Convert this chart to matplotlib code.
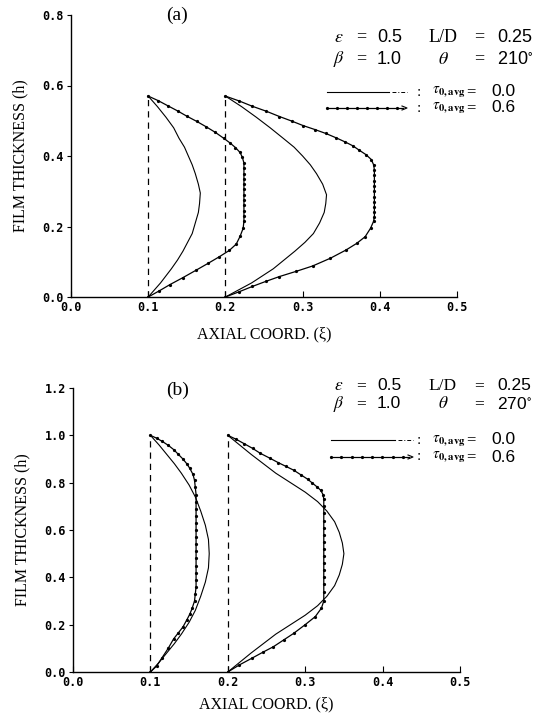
import matplotlib
matplotlib.use("Agg")
import matplotlib.pyplot as plt

plt.rcParams['font.family'] = ['Liberation Serif', 'DejaVu Serif']
plt.rcParams['mathtext.fontset'] = 'stix'

# ---------------- data ----------------
# Panel (a): theta = 210 deg
a_xticks = [0.0, 0.1, 0.2, 0.3, 0.4, 0.5]
a_yticks = [0.0, 0.2, 0.4, 0.6, 0.8]

a_solid1_xi = [0.100, 0.112, 0.123, 0.133, 0.140, 0.147, 0.152, 0.157, 0.161, 0.165, 0.1675, 0.1665, 0.165, 0.161, 0.157, 0.151, 0.145, 0.138, 0.130, 0.123, 0.116, 0.108, 0.100]
a_solid1_h  = [0.570, 0.540, 0.510, 0.480, 0.450, 0.425, 0.400, 0.375, 0.350, 0.320, 0.295, 0.265, 0.240, 0.210, 0.180, 0.155, 0.130, 0.105, 0.080, 0.060, 0.040, 0.020, 0.000]

a_solid2_xi = [0.200, 0.221, 0.240, 0.258, 0.275, 0.289, 0.300, 0.310, 0.318, 0.326, 0.331, 0.330, 0.328, 0.322, 0.314, 0.303, 0.290, 0.276, 0.262, 0.248, 0.234, 0.217, 0.200]
a_solid2_h  = [0.570, 0.540, 0.510, 0.480, 0.450, 0.425, 0.400, 0.375, 0.350, 0.320, 0.290, 0.265, 0.240, 0.210, 0.180, 0.155, 0.130, 0.105, 0.080, 0.060, 0.040, 0.020, 0.000]

a_dot1_xi = [0.100, 0.113, 0.125, 0.138, 0.150, 0.163, 0.175, 0.187, 0.198, 0.206, 0.213, 0.219, 0.222, 0.224, 0.224, 0.224, 0.224, 0.224, 0.224, 0.224, 0.224, 0.224, 0.224, 0.224, 0.224, 0.223, 0.219, 0.214, 0.205, 0.192, 0.178, 0.162, 0.145, 0.128, 0.114, 0.100]
a_dot1_h  = [0.570, 0.557, 0.543, 0.528, 0.513, 0.498, 0.483, 0.467, 0.450, 0.437, 0.424, 0.410, 0.396, 0.380, 0.365, 0.350, 0.335, 0.320, 0.305, 0.290, 0.275, 0.260, 0.245, 0.230, 0.215, 0.195, 0.172, 0.150, 0.132, 0.114, 0.096, 0.076, 0.055, 0.035, 0.017, 0.000]

a_dot2_xi = [0.200, 0.218, 0.235, 0.253, 0.270, 0.286, 0.301, 0.316, 0.330, 0.343, 0.355, 0.365, 0.373, 0.382, 0.389, 0.392, 0.393, 0.393, 0.393, 0.393, 0.393, 0.393, 0.393, 0.393, 0.393, 0.393, 0.392, 0.388, 0.381, 0.370, 0.356, 0.336, 0.313, 0.292, 0.270, 0.252, 0.235, 0.218, 0.200]
a_dot2_h  = [0.570, 0.556, 0.541, 0.527, 0.512, 0.499, 0.486, 0.475, 0.464, 0.452, 0.440, 0.429, 0.417, 0.404, 0.390, 0.375, 0.360, 0.345, 0.330, 0.315, 0.300, 0.285, 0.270, 0.255, 0.240, 0.228, 0.215, 0.195, 0.171, 0.152, 0.133, 0.110, 0.088, 0.073, 0.058, 0.044, 0.030, 0.015, 0.000]

# Panel (b): theta = 270 deg
b_xticks = [0.0, 0.1, 0.2, 0.3, 0.4, 0.5]
b_yticks = [0.0, 0.2, 0.4, 0.6, 0.8, 1.0, 1.2]

b_solid1_xi = [0.100, 0.111, 0.121, 0.131, 0.140, 0.150, 0.158, 0.165, 0.171, 0.175, 0.176, 0.175, 0.171, 0.165, 0.158, 0.150, 0.140, 0.131, 0.121, 0.111, 0.100]
b_solid1_h  = [1.000, 0.960, 0.920, 0.880, 0.840, 0.790, 0.740, 0.680, 0.620, 0.560, 0.500, 0.440, 0.380, 0.320, 0.260, 0.210, 0.160, 0.120, 0.080, 0.040, 0.000]

b_solid2_xi = [0.200, 0.215, 0.230, 0.246, 0.262, 0.281, 0.300, 0.316, 0.328, 0.338, 0.344, 0.348, 0.350, 0.348, 0.344, 0.338, 0.328, 0.316, 0.300, 0.281, 0.262, 0.246, 0.230, 0.215, 0.200]
b_solid2_h  = [1.000, 0.960, 0.920, 0.880, 0.840, 0.800, 0.760, 0.720, 0.680, 0.635, 0.590, 0.545, 0.500, 0.455, 0.410, 0.365, 0.320, 0.280, 0.240, 0.200, 0.160, 0.120, 0.080, 0.040, 0.000]

b_dot1_xi = [0.100, 0.108, 0.115, 0.123, 0.130, 0.136, 0.142, 0.147, 0.151, 0.155, 0.157, 0.158, 0.159, 0.159, 0.159, 0.159, 0.159, 0.159, 0.159, 0.159, 0.159, 0.159, 0.159, 0.159, 0.159, 0.159, 0.158, 0.157, 0.154, 0.151, 0.147, 0.142, 0.136, 0.130, 0.123, 0.115, 0.108, 0.100]
b_dot1_h  = [1.000, 0.988, 0.975, 0.958, 0.940, 0.920, 0.900, 0.880, 0.860, 0.835, 0.810, 0.780, 0.750, 0.720, 0.690, 0.660, 0.630, 0.600, 0.570, 0.540, 0.510, 0.480, 0.450, 0.420, 0.390, 0.360, 0.330, 0.300, 0.270, 0.245, 0.220, 0.190, 0.165, 0.140, 0.100, 0.060, 0.025, 0.000]

b_dot2_xi = [0.200, 0.211, 0.221, 0.232, 0.242, 0.254, 0.265, 0.275, 0.285, 0.294, 0.303, 0.309, 0.315, 0.320, 0.323, 0.324, 0.324, 0.324, 0.324, 0.324, 0.324, 0.324, 0.324, 0.324, 0.324, 0.324, 0.324, 0.324, 0.324, 0.324, 0.321, 0.313, 0.300, 0.285, 0.272, 0.259, 0.245, 0.231, 0.215, 0.200]
b_dot2_h  = [1.000, 0.983, 0.965, 0.945, 0.924, 0.904, 0.885, 0.869, 0.853, 0.834, 0.815, 0.799, 0.783, 0.768, 0.750, 0.730, 0.700, 0.670, 0.640, 0.610, 0.580, 0.550, 0.520, 0.490, 0.460, 0.430, 0.400, 0.370, 0.340, 0.300, 0.270, 0.234, 0.200, 0.163, 0.135, 0.107, 0.083, 0.058, 0.030, 0.000]

# text
a_params = [("$\\varepsilon$", "0.5", "L/D", "0.25"), ("$\\beta$", "1.0", "$\\theta$", "210$^{\\circ}$")]
b_params = [("$\\varepsilon$", "0.5", "L/D", "0.25"), ("$\\beta$", "1.0", "$\\theta$", "270$^{\\circ}$")]
tau_values = ["0.0", "0.6"]
x_label = "AXIAL COORD. (ξ)"
y_label = "FILM THICKNESS (h)"

W, H = 546, 716
fig = plt.figure(figsize=(W / 100, H / 100), dpi=100)


def fx(px):
    return px / W


def fy(py):
    return 1 - py / H


def make_axes(left, right, top, bottom, ylim, xticks, yticks, xpad):
    ax = fig.add_axes([fx(left), fy(bottom), fx(right) - fx(left), fy(top) - fy(bottom)])
    ax.set_xlim(0, 0.5)
    ax.set_ylim(*ylim)
    ax.spines['top'].set_visible(False)
    ax.spines['right'].set_visible(False)
    for s in ('left', 'bottom'):
        ax.spines[s].set_linewidth(1.0)
    ax.set_xticks(xticks)
    ax.set_yticks(yticks)
    ax.set_xticklabels([f"{v:.1f}" for v in xticks], family='DejaVu Sans Mono', fontsize=8.5, fontweight='bold')
    ax.set_yticklabels([f"{v:.1f}" for v in yticks], family='DejaVu Sans Mono', fontsize=8.5, fontweight='bold')
    ax.tick_params(axis='x', direction='in', length=4, width=0.8, pad=3)
    ax.tick_params(axis='y', direction='out', length=3, width=0.8, pad=2)
    ax.set_ylabel(y_label, fontsize=11.5, labelpad=10)
    ax.set_xlabel(x_label, fontsize=11.5, labelpad=xpad)
    return ax


def draw_panel(ax, s1, s2, d1, d2, top):
    for xi0 in (0.1, 0.2):
        ax.plot([xi0, xi0], [0, top], color='black', lw=0.9, ls=(0, (5, 4)))
    for xs, hs in (s1, s2):
        ax.plot(xs, hs, color='black', lw=0.8)
    for xs, hs in (d1, d2):
        ax.plot(xs, hs, color='black', lw=0.9, marker='o', ms=1.3)


ax_a = make_axes(71, 457, 15, 297, (0, 0.8), a_xticks, a_yticks, 9)
draw_panel(ax_a, (a_solid1_xi, a_solid1_h), (a_solid2_xi, a_solid2_h),
           (a_dot1_xi, a_dot1_h), (a_dot2_xi, a_dot2_h), 0.57)

ax_b = make_axes(73, 460, 388, 672, (0, 1.2), b_xticks, b_yticks, 5)
draw_panel(ax_b, (b_solid1_xi, b_solid1_h), (b_solid2_xi, b_solid2_h),
           (b_dot1_xi, b_dot1_h), (b_dot2_xi, b_dot2_h), 1.0)


def annotate(label, lab_xy, params, rows_y, leg_rows_y, leg_x, fs):
    fig.text(fx(lab_xy[0]), fy(lab_xy[1]), label, fontsize=14, ha='center', va='center')
    for (sym, v1, sym2, v2), y in zip(params, rows_y):
        fig.text(fx(339), fy(y), sym, fontsize=fs, ha='center', va='center')
        fig.text(fx(361), fy(y), "=", fontsize=fs, ha='center', va='center')
        fig.text(fx(377), fy(y), v1, fontsize=fs, ha='left', va='center', family='Liberation Sans')
        fig.text(fx(443), fy(y), sym2, fontsize=fs, ha='center', va='center')
        fig.text(fx(479), fy(y), "=", fontsize=fs, ha='center', va='center')
        fig.text(fx(497), fy(y), v2, fontsize=fs, ha='left', va='center', family='Liberation Sans')
    x0, x1 = leg_x
    for i, (tv, y) in enumerate(zip(tau_values, leg_rows_y)):
        if i == 0:
            fig.add_artist(plt.Line2D([fx(x0), fx(x1 - 18)], [fy(y), fy(y)], color='black', lw=0.8,
                                      transform=fig.transFigure))
            fig.add_artist(plt.Line2D([fx(x1 - 15), fx(x1)], [fy(y), fy(y)], color='black', lw=0.7,
                                      ls=(0, (4, 2, 1, 2)), transform=fig.transFigure))
        else:
            xs = [fx(x0 + k * (x1 - x0) / 8) for k in range(8)]
            fig.add_artist(plt.Line2D(xs + [fx(x1 - 4)], [fy(y)] * 9, color='black', lw=0.9,
                                      marker='o', ms=1.3, markevery=list(range(8)),
                                      transform=fig.transFigure))
            fig.add_artist(plt.Line2D([fx(x1 - 5), fx(x1), fx(x1 - 5)], [fy(y - 2), fy(y), fy(y + 2)],
                                      color='black', lw=0.8, transform=fig.transFigure))
        fig.text(fx(419), fy(y), ":", fontsize=11, ha='center', va='center')
        fig.text(fx(432), fy(y), "$\\tau_{\\mathbf{0,avg}}$", fontsize=11, ha='left', va='center')
        fig.text(fx(471), fy(y), "=", fontsize=12, ha='center', va='center')
        fig.text(fx(491), fy(y), tv, fontsize=12.5, ha='left', va='center', family='Liberation Sans')


annotate("(a)", (177, 15), a_params, (37, 59), (92, 108), (327, 407), 13)
annotate("(b)", (178, 390), b_params, (386, 404), (440, 457), (331, 413), 12.5)

fig.savefig("out.png", dpi=100)
